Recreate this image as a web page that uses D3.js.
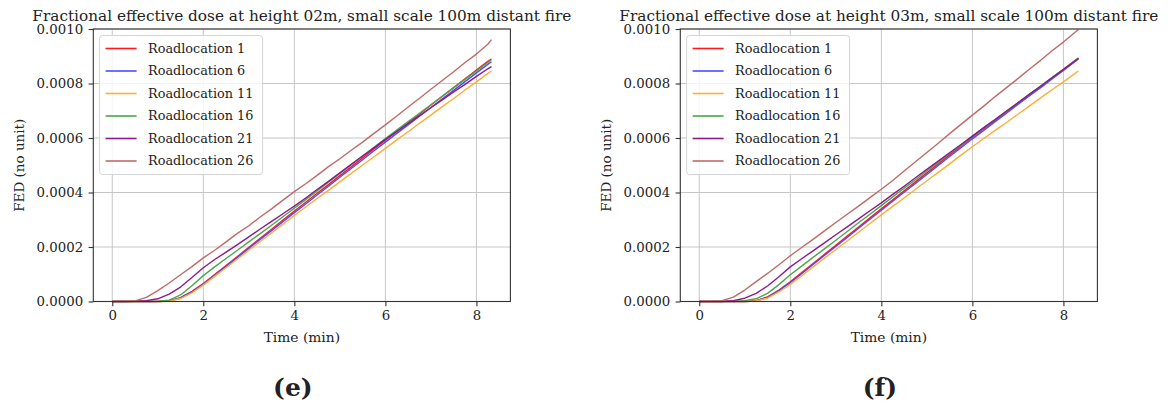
<!DOCTYPE html>
<html>
<head>
<meta charset="utf-8">
<script src="https://cdn.jsdelivr.net/npm/d3@7"></script>
<style>
  body { margin: 0; background: #fff; }
  text { font-family: "DejaVu Serif", "Liberation Serif", serif; fill: #222; }
</style>
</head>
<body>
<svg id="chart" width="1168" height="408"></svg>
<script>
// Sample times (min)
const times = [0, 0.25, 0.5, 0.75, 1, 1.25, 1.5, 1.75, 2, 2.25, 2.5, 2.75, 3, 3.25, 3.5, 3.75,
  4, 4.25, 4.5, 4.75, 5, 5.25, 5.5, 5.75, 6, 6.25, 6.5, 6.75, 7, 7.25, 7.5, 7.75, 8, 8.25, 8.33];

const locations = ["Roadlocation 1", "Roadlocation 6", "Roadlocation 11",
  "Roadlocation 16", "Roadlocation 21", "Roadlocation 26"];
const lineColors = ["#ff1a1a", "#4d4dff", "#ffad33", "#4ca64c", "#8c1a8c", "#c06a6a"];

const xTicks = [0, 2, 4, 6, 8];
const yTicks = [0, 0.0002, 0.0004, 0.0006, 0.0008, 0.0010];

// FED values in units of 1e-6, height 02m
const fed02_loc1  = [0,0,0,0,0,2,14,37,66,99,132,165,199,232,265,299,332,364,397,429,462,494,527,560,592,624,656,688,721,753,785,817,849,881,890];
const fed02_loc6  = [0,0,0,0,0,2,13,35,64,96,129,162,195,228,260,293,326,358,391,423,456,488,520,553,585,617,648,680,712,744,775,807,839,870,880];
const fed02_loc11 = [0,0,0,0,0,1,11,32,60,92,124,156,188,220,252,284,316,347,378,408,439,470,501,531,562,593,623,654,684,715,745,776,806,837,846];
const fed02_loc16 = [0,0,0,0,1,5,24,58,95,127,158,188,219,249,280,311,342,374,406,438,470,502,534,566,598,629,660,691,722,753,784,815,846,877,887];
const fed02_loc21 = [0,0,1,3,10,27,53,88,124,154,181,209,237,266,294,322,350,380,411,441,472,503,534,564,595,624,653,682,711,740,769,797,826,854,862];
const fed02_loc26 = [0,0,2,15,40,68,98,128,160,188,219,250,278,310,340,372,403,432,463,495,524,555,585,617,648,681,714,746,779,811,843,877,908,944,961];

// FED values in units of 1e-6, height 03m
const fed03_loc1  = [0,0,0,0,0,3,17,42,72,106,139,173,206,240,273,307,340,373,406,439,472,505,538,570,603,634,665,696,727,758,790,821,852,883,893];
const fed03_loc6  = [0,0,0,0,0,2,15,40,69,102,136,169,202,235,269,302,335,368,401,433,466,499,532,564,597,628,660,691,723,754,785,817,848,880,890];
const fed03_loc11 = [0,0,0,0,0,2,12,35,63,95,127,159,191,222,254,286,318,349,380,412,443,474,505,537,568,598,628,657,687,717,747,777,806,836,846];
const fed03_loc16 = [0,0,0,0,3,10,30,62,98,130,162,193,225,257,289,320,352,384,416,447,479,511,543,574,606,637,668,698,729,760,791,822,852,883,893];
const fed03_loc21 = [0,0,0,3,12,30,57,91,127,157,186,215,245,274,303,333,362,393,423,454,485,515,546,576,607,638,668,699,729,760,790,821,851,882,892];
const fed03_loc26 = [0,0,3,16,42,73,103,135,168,198,228,259,290,320,350,381,412,444,479,513,547,581,616,650,684,717,752,785,818,852,885,920,952,987,998];

const panels = [
  { title: "Fractional effective dose at height 02m, small scale 100m distant fire", tag: "(e)",
    series: [fed02_loc1, fed02_loc6, fed02_loc11, fed02_loc16, fed02_loc21, fed02_loc26] },
  { title: "Fractional effective dose at height 03m, small scale 100m distant fire", tag: "(f)",
    series: [fed03_loc1, fed03_loc6, fed03_loc11, fed03_loc16, fed03_loc21, fed03_loc26] }
];

const svg = d3.select("#chart");
const panelWidth = 587;
const plot = { left: 93.3, width: 417.1, top: 29, height: 272.5 };

const tMax = d3.max(times);
const x = d3.scaleLinear().domain([-0.05 * tMax, tMax * 1.05]).range([0, plot.width]);
const y = d3.scaleLinear().domain([0, 0.001]).range([plot.height, 0]);

panels.forEach((p, pi) => {
  const g = svg.append("g")
    .attr("transform", `translate(${plot.left + pi * panelWidth},${plot.top})`);

  // grid
  g.append("g").selectAll("line").data(xTicks).join("line")
    .attr("x1", d => x(d)).attr("x2", d => x(d))
    .attr("y1", 0).attr("y2", plot.height)
    .attr("stroke", "#c6c6c6").attr("stroke-width", 1);
  g.append("g").selectAll("line").data(yTicks).join("line")
    .attr("x1", 0).attr("x2", plot.width)
    .attr("y1", d => y(d)).attr("y2", d => y(d))
    .attr("stroke", "#c6c6c6").attr("stroke-width", 1);

  // curves
  const line = d3.line().x((d, i) => x(times[i])).y(d => y(d * 1e-6));
  g.append("g").selectAll("path").data(p.series).join("path")
    .attr("d", d => line(d))
    .attr("fill", "none")
    .attr("stroke", (d, i) => lineColors[i])
    .attr("stroke-width", 1.4)
    .attr("stroke-linejoin", "round");

  // axes frame
  g.append("rect").attr("width", plot.width).attr("height", plot.height)
    .attr("fill", "none").attr("stroke", "#333").attr("stroke-width", 1.1);

  const xAxis = g.append("g").attr("transform", `translate(0,${plot.height})`)
    .call(d3.axisBottom(x).tickValues(xTicks).tickFormat(d3.format("d"))
      .tickSize(4.7).tickPadding(4.5).tickSizeOuter(0));
  const yAxis = g.append("g")
    .call(d3.axisLeft(y).tickValues(yTicks).tickFormat(d3.format(".4f"))
      .tickSize(4.7).tickPadding(5.5).tickSizeOuter(0));
  [xAxis, yAxis].forEach(a => {
    a.select(".domain").remove();
    a.selectAll(".tick line").attr("stroke", "#333").attr("stroke-width", 1.1);
    a.selectAll(".tick text").attr("font-family", "DejaVu Serif").attr("font-size", 13.3).attr("fill", "#222");
  });

  // titles and labels
  g.append("text").attr("x", plot.width / 2).attr("y", -8.4)
    .attr("text-anchor", "middle").attr("font-size", 15.3).text(p.title);
  g.append("text").attr("x", plot.width / 2).attr("y", plot.height + 40)
    .attr("text-anchor", "middle").attr("font-size", 13.8).text("Time (min)");
  g.append("text")
    .attr("transform", `translate(${-74},${plot.height / 2}) rotate(-90)`)
    .attr("text-anchor", "middle").attr("dominant-baseline", "central")
    .attr("font-size", 13.5).text("FED (no unit)");
  g.append("text").attr("x", plot.width / 2 - 9).attr("y", plot.height + 94)
    .attr("text-anchor", "middle").attr("font-size", 25).attr("font-weight", "bold")
    .attr("fill", "#111").text(p.tag);

  // legend
  const lg = g.append("g").attr("transform", "translate(6.3,6.5)");
  lg.append("rect").attr("width", 163).attr("height", 139).attr("rx", 3)
    .attr("fill", "#fff").attr("fill-opacity", 0.8)
    .attr("stroke", "#d4d4d4").attr("stroke-width", 1);
  const rows = lg.selectAll("g.row").data(locations).join("g")
    .attr("class", "row")
    .attr("transform", (d, i) => `translate(0,${13 + i * 22.5})`);
  rows.append("line").attr("x1", 6).attr("x2", 37)
    .attr("stroke", (d, i) => lineColors[i]).attr("stroke-width", 1.6);
  rows.append("text").attr("x", 48.5).attr("dy", "0.35em")
    .attr("font-size", 12.8).text(d => d);
});
</script>
</body>
</html>
